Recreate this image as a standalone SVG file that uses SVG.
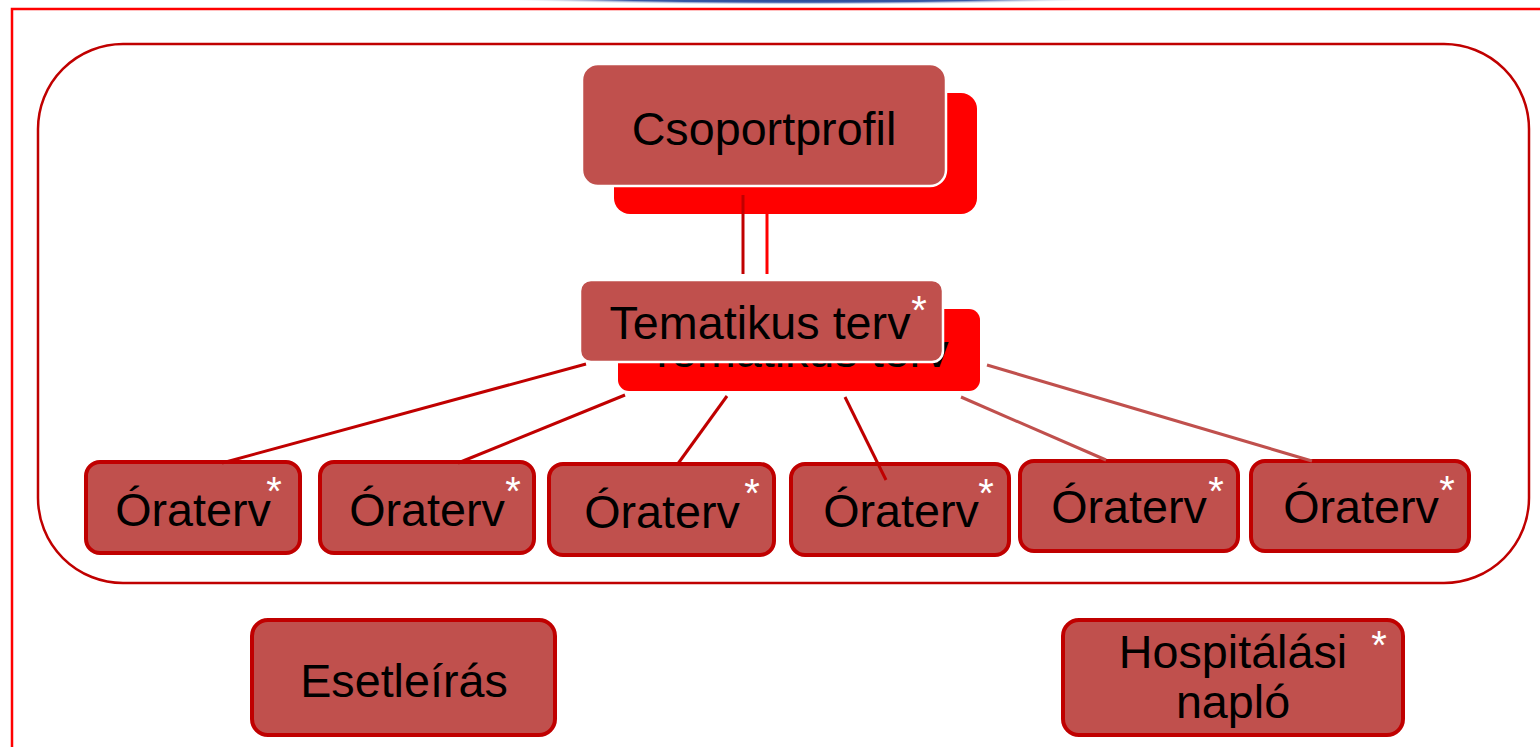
<svg xmlns="http://www.w3.org/2000/svg" width="1540" height="747" viewBox="0 0 1540 747">
<defs>
<radialGradient id="blue" cx="0.5" cy="0.5" r="0.5">
<stop offset="0" stop-color="#1A3580"/>
<stop offset="0.7" stop-color="#3A5AA8"/>
<stop offset="1" stop-color="#FFFFFF" stop-opacity="0"/>
</radialGradient>
<style>
text{font-family:"Liberation Sans",Arial,sans-serif;font-size:46.7px;fill:#000;text-anchor:middle}
.ast{fill:#fff;font-size:40px}
.box{fill:#C0504D;stroke:#C00000;stroke-width:4}
.front{fill:#C0504D;stroke:#fff;stroke-width:2.5}
.shadow{fill:#FF0000}
.dk{stroke:#C00000;stroke-width:3;fill:none}
.lt{stroke:#C0504D;stroke-width:3;fill:none}
.rd{stroke:#FF0000;stroke-width:3;fill:none}
</style>
</defs>
<rect width="1540" height="747" fill="#fff"/>
<ellipse cx="800" cy="-4" rx="340" ry="9" fill="url(#blue)"/>
<rect x="12" y="9" width="1560" height="780" fill="none" stroke="#FF0000" stroke-width="2.5"/>
<g id="container">
<rect x="38" y="44" width="1491" height="539" rx="85" fill="none" stroke="#C00000" stroke-width="2.5"/>
</g>
<g id="orat1"><rect class="box" x="86" y="462" width="214" height="91" rx="14"/><text x="193" y="526">Óraterv</text><text class="ast" x="274" y="505">*</text></g>
<g id="orat2"><rect class="box" x="320" y="462" width="214" height="91" rx="14"/><text x="427" y="526">Óraterv</text><text class="ast" x="513" y="505">*</text></g>
<g id="orat3"><rect class="box" x="549" y="464" width="225" height="91" rx="14"/><text x="662" y="528">Óraterv</text><text class="ast" x="752" y="507">*</text></g>
<g id="orat4"><rect class="box" x="791" y="464" width="218" height="91" rx="14"/><text x="901" y="527">Óraterv</text><text class="ast" x="986" y="507">*</text></g>
<g id="orat5"><rect class="box" x="1020" y="461" width="218" height="90" rx="14"/><text x="1129" y="523">Óraterv</text><text class="ast" x="1216" y="505">*</text></g>
<g id="orat6"><rect class="box" x="1251" y="461" width="218" height="90" rx="14"/><text x="1361" y="523">Óraterv</text><text class="ast" x="1447" y="504">*</text></g>
<g id="esetleiras"><rect class="box" x="252" y="620" width="303" height="115" rx="16"/><text x="404" y="697">Esetleírás</text></g>
<g id="hospitalasi"><rect class="box" x="1063" y="620" width="340" height="115" rx="16"/><text x="1233" y="668">Hospitálási</text><text x="1233" y="718">napló</text><text class="ast" x="1379" y="659">*</text></g>
<g id="csoportprofil-shadow"><rect class="shadow" x="614" y="93" width="363" height="121" rx="16"/></g>
<g id="tematikus-shadow"><rect class="shadow" x="618" y="309" width="362" height="82" rx="11"/><text x="798" y="367">Tematikus terv</text></g>
<g id="connectors">
<line class="rd" x1="767" y1="214" x2="767" y2="274"/>
<line class="dk" x1="743" y1="195" x2="743" y2="274"/>
<line class="dk" x1="586" y1="364" x2="222" y2="463"/>
<line class="dk" x1="625" y1="395" x2="458" y2="463"/>
<line class="dk" x1="727" y1="396" x2="677" y2="465"/>
<line class="dk" x1="845" y1="397" x2="886" y2="480"/>
<line class="lt" x1="961" y1="397" x2="1106" y2="460"/>
<line class="lt" x1="987" y1="365" x2="1312" y2="461"/>
</g>
<g id="csoportprofil"><rect class="front" x="582" y="64" width="364" height="122" rx="16"/><text x="764" y="145">Csoportprofil</text></g>
<g id="tematikus"><rect class="front" x="580" y="280" width="363" height="82" rx="11"/><text x="760" y="339">Tematikus terv</text><text class="ast" x="919" y="324">*</text></g>
</svg>
